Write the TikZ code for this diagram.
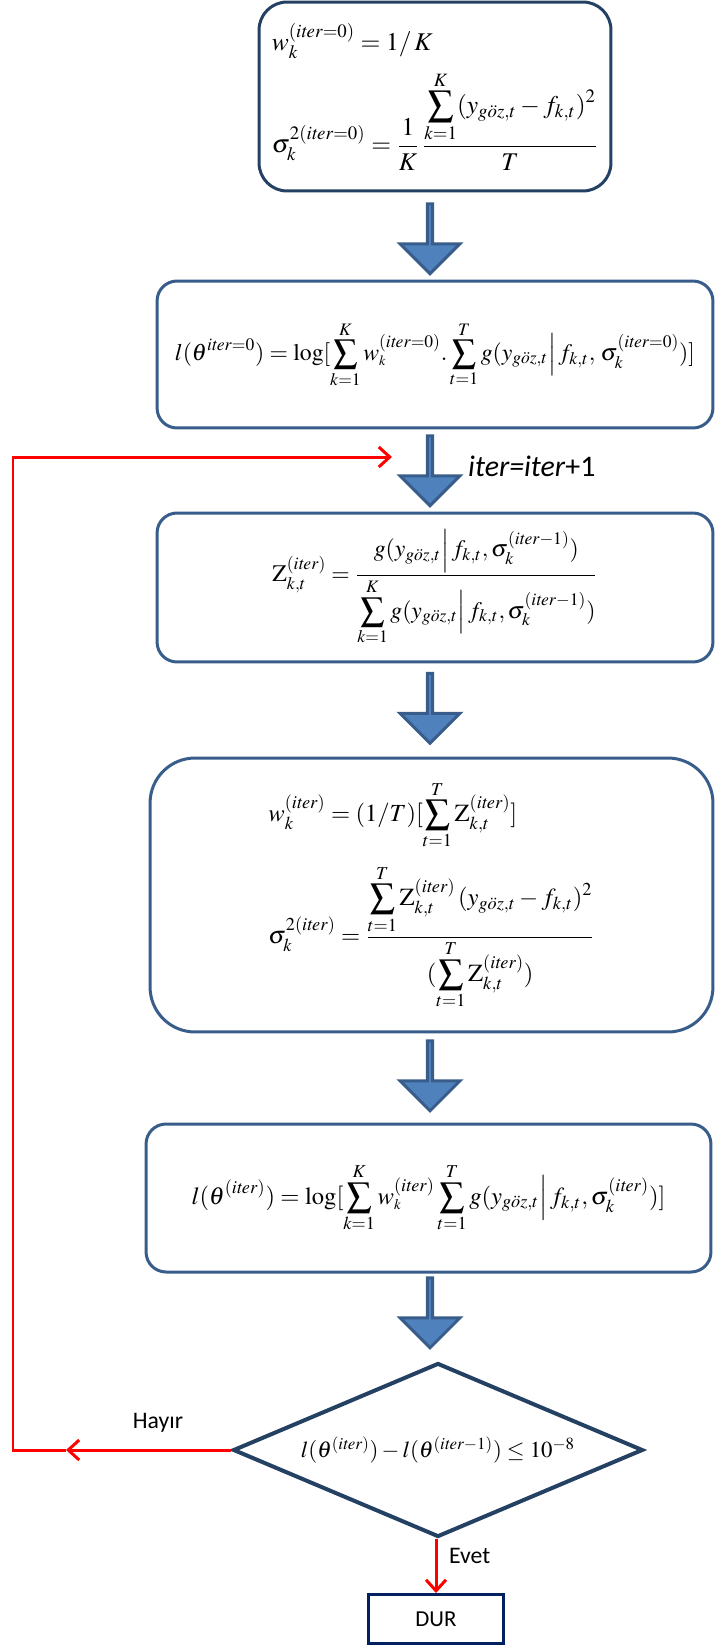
\documentclass[tikz,border=0pt]{standalone}
\definecolor{boxnavy}{RGB}{36, 64, 98}
\definecolor{boxsteel}{RGB}{56, 93, 138}
\definecolor{arrowblue}{RGB}{79, 129, 189}
\definecolor{durnavy}{RGB}{0, 32, 96}
\usepackage{amsmath}
\usepackage{mathptmx}
\usepackage[no-math]{fontspec}
\setmainfont{Liberation Serif}
\newfontfamily\calib{Carlito}
\usepackage{tikz}
\usetikzlibrary{shapes.geometric, shapes.arrows, arrows.meta, positioning}

\begin{document}
\begin{tikzpicture}[x=0.02cm, y=-0.02cm]
    \tikzset{
        formbox/.style={draw=boxsteel, line width=0.06cm, rounded corners=0.4cm, align=left,
                        font=\fontsize{14}{17}\selectfont},
        blockarrow/.style={single arrow, rotate=-90, draw=boxsteel, fill=arrowblue, line width=0.06cm,
                           minimum height=1.4cm, minimum width=1.2cm, single arrow head extend=0.3cm, inner sep=0pt},
        redline/.style={draw=red, line width=0.06cm},
        redtip/.style={-{Straight Barb[length=0.22cm, width=0.4cm]}},
        lbl/.style={font=\calib\fontsize{13.5}{16}\selectfont}
    }
    \useasboundingbox (0,0) rectangle (715,1646);

    % Formula boxes
    \node[formbox, draw=boxnavy, rounded corners=0.56cm, minimum width=7.04cm, minimum height=3.78cm,
          font=\fontsize{14.5}{17}\selectfont] (init) at (435,96.5)
        {$\displaystyle w_k^{(\mathit{iter}=0)}=1/\,K$\\[6pt]
         $\displaystyle \sigma_k^{2(\mathit{iter}=0)}=\frac{1}{K}\,
           \frac{\displaystyle\sum_{k=1}^{K}(y_{g\ddot{o}z,t}-f_{k,t})^2}{T}$};
    \node[formbox, minimum width=11.12cm, minimum height=2.94cm, font=\fontsize{13.5}{16}\selectfont] (lik0) at (435,354.5)
        {$\displaystyle l(\theta^{\mathit{iter}=0})=\log[\sum_{k=1}^{K}w^{(\mathit{iter}=0)}_{\scriptscriptstyle k}.
          \sum_{t=1}^{T}g(y_{g\ddot{o}z,t}\Big|\,f_{k,t},\,\sigma_k^{(\mathit{iter}=0)})]$};
    \node[formbox, minimum width=11.12cm, minimum height=2.98cm, font=\fontsize{13.5}{16}\selectfont] (estep) at (435,587.5)
        {$\displaystyle \mathrm{Z}_{k,t}^{(\mathit{iter})}=
          \frac{g(y_{g\ddot{o}z,t}\Big|\,f_{k,t},\sigma_k^{(\mathit{iter}-1)})}
               {\displaystyle\sum_{k=1}^{K}g(y_{g\ddot{o}z,t}\Big|\,f_{k,t},\sigma_k^{(\mathit{iter}-1)})}$};
    \node[formbox, rounded corners=0.9cm, minimum width=11.26cm, minimum height=5.48cm] (mstep) at (431.5,895)
        {$\displaystyle w_k^{(\mathit{iter})}=(1/T)[\sum_{t=1}^{T}\mathrm{Z}_{k,t}^{(\mathit{iter})}]$\\[8pt]
         $\displaystyle \sigma_k^{2(\mathit{iter})}=
          \frac{\displaystyle\sum_{t=1}^{T}\mathrm{Z}_{k,t}^{(\mathit{iter})}\,(y_{g\ddot{o}z,t}-f_{k,t})^2}
               {(\displaystyle\sum_{t=1}^{T}\mathrm{Z}_{k,t}^{(\mathit{iter})})}$};
    \node[formbox, minimum width=11.3cm, minimum height=2.96cm] (lik) at (428.5,1198)
        {$\displaystyle l(\theta^{(\mathit{iter})})=\log[\sum_{k=1}^{K}w^{(\mathit{iter})}_{\scriptscriptstyle k}
          \sum_{t=1}^{T}g(y_{g\ddot{o}z,t}\Big|\,f_{k,t},\sigma_k^{(\mathit{iter})})]$};

    % Block arrows
    \node[blockarrow] (a1) at (430,237.5) {};
    \node[blockarrow] (a2) at (430,469.5) {};
    \node[blockarrow] (a3) at (430,707) {};
    \node[blockarrow] (a4) at (430,1074.5) {};
    \node[blockarrow] (a5) at (430,1311.5) {};
    \node[lbl, anchor=west, font=\calib\fontsize{17}{20}\selectfont] (inc) at (462,466) {\textit{iter=iter}+1};

    % Decision and stop
    \node[draw=boxnavy, diamond, line width=0.08cm, minimum width=8.2cm, minimum height=3.48cm, inner sep=0pt] (dec) at (438,1450) {};
    \node[font=\fontsize{13}{16}\selectfont] (decf) at (dec.center)
        {$l(\theta^{(\mathit{iter})})-l(\theta^{(\mathit{iter}-1)})\le 10^{-8}$};
    \node[draw=durnavy, line width=0.06cm, minimum width=2.7cm, minimum height=0.98cm,
          font=\calib\fontsize{13}{15}\selectfont] (dur) at (436,1619) {DUR};

    % Loop back
    \coordinate (corner) at (13,1450);
    \coordinate (hay) at (66,1450);
    \coordinate (back) at (392,457);
    \draw[redline, redtip] (dec.west) -- (hay);
    \draw[redline, redtip] (hay) -- (corner) |- (back);
    \draw[redline, redtip] (dec.south -| dur.north) -- (dur.north);

    \node[lbl] (no) at (158,1423) {Hayır};
    \node[lbl, anchor=west] (yes) at (443,1556) {Evet};
\end{tikzpicture}
\end{document}
